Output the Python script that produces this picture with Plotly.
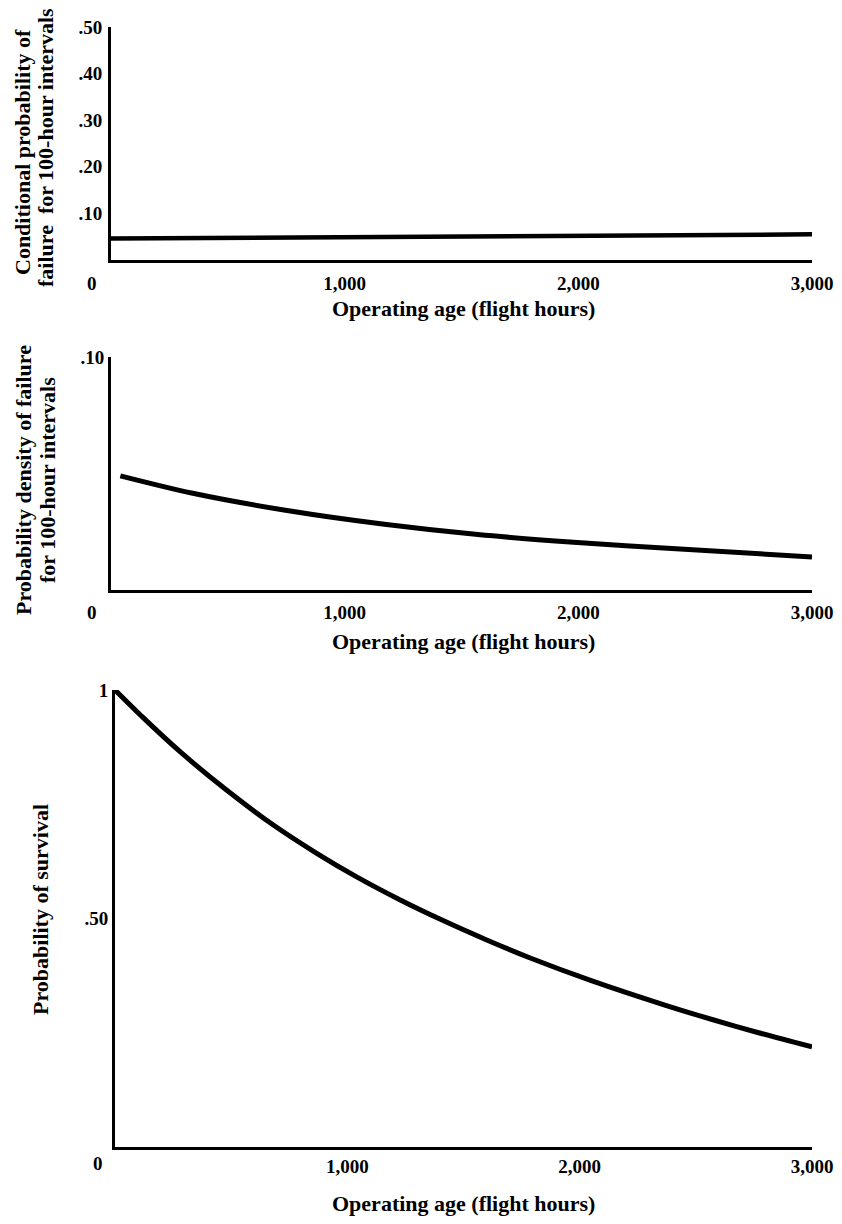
import plotly.graph_objects as go

# values
hours_hazard = [0, 3000]
cond_prob = [0.046, 0.055]

hours_density = [40, 350, 760, 1170, 1570, 1980, 2400, 3000]
density = [0.049, 0.0415, 0.034, 0.0282, 0.0238, 0.0205, 0.0178, 0.0142]

hours_surv = [0, 120, 280, 480, 680, 870, 1040, 1230, 1410, 1600, 1790, 2050, 2370, 2570, 2770, 3000]
survival = [1.0, 0.940, 0.865, 0.781, 0.705, 0.642, 0.591, 0.540, 0.496, 0.453, 0.413, 0.364, 0.310, 0.279, 0.250, 0.219]

x_ticks = [1000, 2000, 3000]
x_ticktext = ["1,000", "2,000", "3,000"]
hazard_ticks = [0.1, 0.2, 0.3, 0.4, 0.5]
hazard_ticktext = [".10", ".20", ".30", ".40", ".50"]
density_ticks = [0.1]
density_ticktext = [".10"]
surv_ticks = [0.5, 1]
surv_ticktext = [".50", "1"]

W, H = 842, 1224
FONT = "Liberation Serif"


def px(x):
    return x / W


def py(y):
    return 1 - y / H


fig = go.Figure()
fig.add_trace(go.Scatter(x=hours_hazard, y=cond_prob, mode="lines", xaxis="x", yaxis="y",
                         line=dict(color="black", width=4.5), cliponaxis=False))
fig.add_trace(go.Scatter(x=hours_density, y=density, mode="lines", xaxis="x2", yaxis="y2",
                         line=dict(color="black", width=5, shape="spline", smoothing=0.8), cliponaxis=False))
fig.add_trace(go.Scatter(x=hours_surv, y=survival, mode="lines", xaxis="x3", yaxis="y3",
                         line=dict(color="black", width=5, shape="spline", smoothing=0.8), cliponaxis=False))

tickfont = dict(family=FONT, size=19, color="black", weight="bold")
base = dict(showgrid=False, zeroline=False, showline=True, linecolor="black", linewidth=3,
            ticks="", tickfont=tickfont, fixedrange=True, automargin=False)

fig.update_layout(
    template="none",
    width=W, height=H,
    margin=dict(l=0, r=0, t=0, b=0, autoexpand=False),
    paper_bgcolor="white", plot_bgcolor="white",
    showlegend=False,
    font=dict(family=FONT, color="black"),
    xaxis=dict(base, domain=[px(111), px(812)], range=[0, 3000], anchor="y",
               tickvals=x_ticks, ticktext=x_ticktext, ticklabelstandoff=4),
    yaxis=dict(base, domain=[py(260), py(27)], range=[0, 0.5], anchor="x",
               tickvals=hazard_ticks, ticktext=hazard_ticktext, ticklabelstandoff=2),
    xaxis2=dict(base, domain=[px(111), px(812)], range=[0, 3000], anchor="y2",
                tickvals=x_ticks, ticktext=x_ticktext, ticklabelstandoff=3),
    yaxis2=dict(base, domain=[py(590), py(357)], range=[0, 0.1], anchor="x2",
                tickvals=density_ticks, ticktext=density_ticktext, ticklabelstandoff=0),
    xaxis3=dict(base, domain=[px(115), px(812)], range=[0, 3000], anchor="y3",
                tickvals=x_ticks, ticktext=x_ticktext, ticklabelstandoff=0),
    yaxis3=dict(base, domain=[py(1147), py(690)], range=[0, 1], anchor="x3",
                tickvals=surv_ticks, ticktext=surv_ticktext, ticklabelstandoff=0),
)

title_font = dict(family=FONT, size=22, color="black", weight="bold")
notes = [
    # origin labels
    dict(text="0", x=px(92), y=py(283), font=tickfont),
    dict(text="0", x=px(92), y=py(612), font=tickfont),
    dict(text="0", x=px(98), y=py(1163), font=tickfont),
    # x titles
    dict(text="Operating age (flight hours)", x=px(463), y=py(308), font=title_font),
    dict(text="Operating age (flight hours)", x=px(463), y=py(641), font=title_font),
    dict(text="Operating age (flight hours)", x=px(463), y=py(1203), font=title_font),
    # y titles, one annotation per line
    dict(text="Conditional probability of", x=px(22), y=py(152), textangle=-90, font=title_font),
    dict(text="failure  for 100-hour intervals", x=px(45), y=py(148), textangle=-90, font=title_font),
    dict(text="Probability density of failure", x=px(24), y=py(480), textangle=-90, font=title_font),
    dict(text="for 100-hour intervals", x=px(48), y=py(480), textangle=-90, font=title_font),
    dict(text="Probability of survival", x=px(40), y=py(910), textangle=-90, font=title_font),
]
for n in notes:
    fig.add_annotation(xref="paper", yref="paper", showarrow=False,
                       xanchor="center", yanchor="middle", **n)

fig.write_html("out.html", config={"displayModeBar": False},
               post_script="document.body.style.margin='0';")
